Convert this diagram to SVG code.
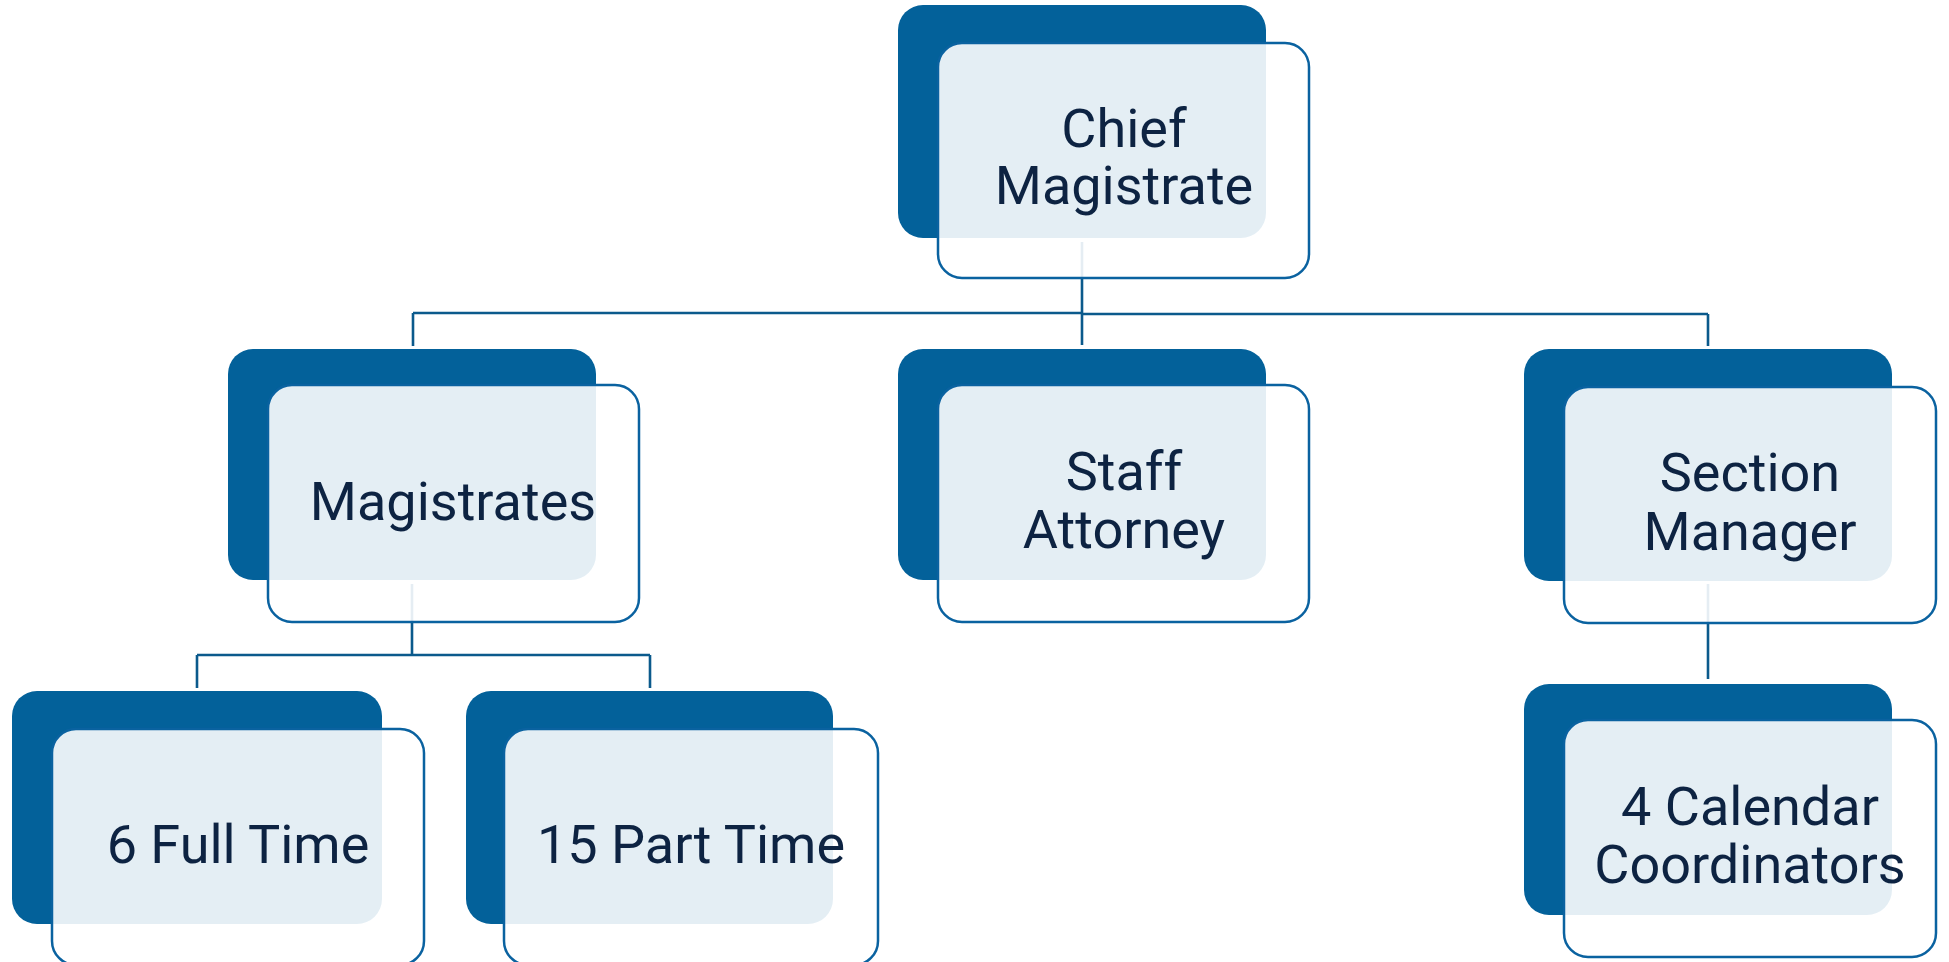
<svg xmlns="http://www.w3.org/2000/svg" width="1949" height="962" viewBox="0 0 1949 962">
<style>
.back{fill:#03619A}
.front{fill:#ffffff;fill-opacity:0.895;stroke:#0A62A0;stroke-width:2.5}
.lbl{font-family:Roboto,"Liberation Sans",sans-serif;font-size:54px;fill:#0D2342;text-anchor:middle}
.conn{fill:none;stroke:#0B5A8C;stroke-width:2.6}
</style>
<rect width="1949" height="962" fill="#ffffff"/>
<g id="connectors" class="conn">
<path d="M1082 242V313"/>
<path d="M413 313H1082M1082 314H1708"/>
<path d="M413 313V346M1082 313V345M1708 314V346"/>
<path d="M412 584V655M197 655H650M197 655V688M650 655V688"/>
<path d="M1708 584V679"/>
</g>
<g id="chief">
<rect class="back" x="898" y="5" width="368" height="233" rx="25"/>
<rect class="front" x="938" y="43" width="371" height="235" rx="24"/>
<text class="lbl" x="1124" y="147">Chief</text>
<text class="lbl" x="1124" y="204">Magistrate</text>
</g>
<g id="magistrates">
<rect class="back" x="228" y="349" width="368" height="231" rx="25"/>
<rect class="front" x="268" y="385" width="371" height="237" rx="24"/>
<text class="lbl" x="453" y="520">Magistrates</text>
</g>
<g id="staff">
<rect class="back" x="898" y="349" width="368" height="231" rx="25"/>
<rect class="front" x="938" y="385" width="371" height="237" rx="24"/>
<text class="lbl" x="1124" y="490">Staff</text>
<text class="lbl" x="1124" y="548">Attorney</text>
</g>
<g id="section">
<rect class="back" x="1524" y="349" width="368" height="232" rx="25"/>
<rect class="front" x="1564" y="387" width="372" height="236" rx="24"/>
<text class="lbl" x="1750" y="491">Section</text>
<text class="lbl" x="1750" y="550">Manager</text>
</g>
<g id="fulltime">
<rect class="back" x="12" y="691" width="370" height="233" rx="25"/>
<rect class="front" x="52" y="729" width="372" height="236" rx="24"/>
<text class="lbl" x="238" y="863">6 Full Time</text>
</g>
<g id="parttime">
<rect class="back" x="466" y="691" width="367" height="233" rx="25"/>
<rect class="front" x="504" y="729" width="374" height="236" rx="24"/>
<text class="lbl" x="691" y="863">15 Part Time</text>
</g>
<g id="coordinators">
<rect class="back" x="1524" y="684" width="368" height="231" rx="25"/>
<rect class="front" x="1564" y="720" width="372" height="237" rx="24"/>
<text class="lbl" x="1750" y="825">4 Calendar</text>
<text class="lbl" x="1750" y="883">Coordinators</text>
</g>
</svg>
